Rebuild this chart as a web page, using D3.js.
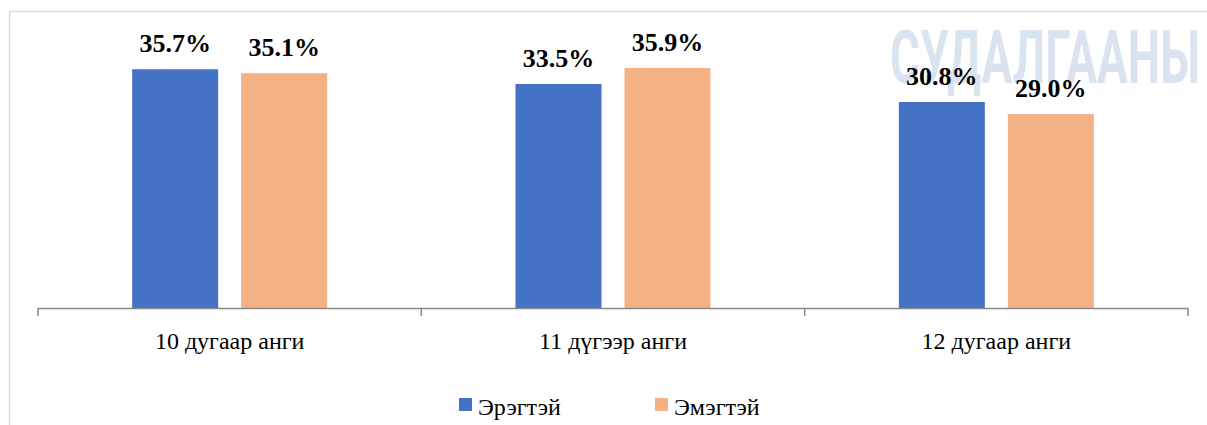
<!DOCTYPE html>
<html>
<head>
<meta charset="utf-8">
<script src="https://cdn.jsdelivr.net/npm/d3@7"></script>
<style>
  body { margin: 0; background: #fff; }
  svg { display: block; }
  .serif { font-family: "Times New Roman", Times, "Liberation Serif", Tinos, "DejaVu Serif", "Noto Serif", serif; }
</style>
</head>
<body>
<div id="chart"></div>
<script>
const categories = ["10 дугаар анги", "11 дүгээр анги", "12 дугаар анги"];
const seriesNames = ["Эрэгтэй", "Эмэгтэй"];
const male = [35.7, 33.5, 30.8];
const female = [35.1, 35.9, 29.0];
const colors = ["#4472C4", "#F4B183"];

const width = 1207, height = 425;
const margin = { top: 40.5, left: 38, right: 19, bottom: 117 };
const baseY = height - margin.bottom;

const data = categories.map((c, i) => ({ cat: c, values: [male[i], female[i]] }));

const svg = d3.select("#chart").append("svg")
    .attr("width", width)
    .attr("height", height);

// frame of the chart area
svg.append("path")
    .attr("d", `M9.5,${height} V11.5 H${width}`)
    .attr("fill", "none")
    .attr("stroke", "#d9d9d9")
    .attr("stroke-width", 1.5);

// faint watermark behind the chart
svg.append("text")
    .attr("x", 890)
    .attr("y", 83)
    .attr("textLength", 310)
    .attr("lengthAdjust", "spacingAndGlyphs")
    .style("font-family", "Roboto, 'DejaVu Sans', sans-serif")
    .style("font-weight", "bold")
    .style("font-size", "74px")
    .attr("fill", "#dae4f1")
    .text("СУДАЛГААНЫ");

const x = d3.scaleBand()
    .domain(categories)
    .range([margin.left, width - margin.right]);

const xInner = d3.scaleBand()
    .domain(seriesNames)
    .range([0, 195])
    .paddingInner(0.211);

const y = d3.scaleLinear()
    .domain([0, 40])
    .range([baseY, margin.top]);

const groups = svg.selectAll(".cat")
    .data(data)
    .join("g")
    .attr("class", "cat")
    .attr("transform", d => `translate(${x(d.cat) + x.bandwidth() / 2 - 97.5},0)`);

groups.selectAll("rect")
    .data(d => d.values.map((v, i) => ({ key: seriesNames[i], v, i })))
    .join("rect")
    .attr("x", d => xInner(d.key))
    .attr("y", d => y(d.v))
    .attr("width", xInner.bandwidth())
    .attr("height", d => baseY - y(d.v))
    .attr("fill", d => colors[d.i]);

groups.selectAll("text.val")
    .data(d => d.values.map((v, i) => ({ key: seriesNames[i], v })))
    .join("text")
    .attr("class", "val serif")
    .attr("x", d => xInner(d.key) + xInner.bandwidth() / 2)
    .attr("y", d => y(d.v) - 17)
    .attr("text-anchor", "middle")
    .style("font-weight", "bold")
    .style("font-size", "26px")
    .attr("fill", "#000")
    .text(d => d.v.toFixed(1) + "%");

// category axis
const xAxis = d3.axisBottom(x).tickSize(0).tickPadding(0);
const axisG = svg.append("g")
    .attr("transform", `translate(0,${baseY})`)
    .call(xAxis)
    .attr("font-family", null);
axisG.select(".domain").remove();
axisG.selectAll(".tick text")
    .attr("class", "serif")
    .attr("y", 24)
    .style("font-size", "24px")
    .attr("fill", "#000");

const bounds = [margin.left, ...categories.map(c => x(c) + x.bandwidth())];
axisG.append("path")
    .attr("d", `M${margin.left},8 V0.5 H${width - margin.right} V8`)
    .attr("fill", "none")
    .attr("stroke", "#898989")
    .attr("stroke-width", 1.5);
axisG.selectAll(".sep")
    .data(bounds.slice(1, -1))
    .join("line")
    .attr("class", "sep")
    .attr("x1", d => d).attr("x2", d => d)
    .attr("y1", 0).attr("y2", 8)
    .attr("stroke", "#898989")
    .attr("stroke-width", 1.5);

// legend
const legendX = [459, 655];
const legend = svg.selectAll(".legend")
    .data(seriesNames)
    .join("g")
    .attr("class", "legend")
    .attr("transform", (d, i) => `translate(${legendX[i]},398)`);
legend.append("rect")
    .attr("width", 13).attr("height", 13)
    .attr("fill", (d, i) => colors[i]);
legend.append("text")
    .attr("class", "serif")
    .attr("x", 19)
    .attr("y", 17)
    .style("font-size", "24px")
    .attr("fill", "#000")
    .text(d => d);
</script>
</body>
</html>
